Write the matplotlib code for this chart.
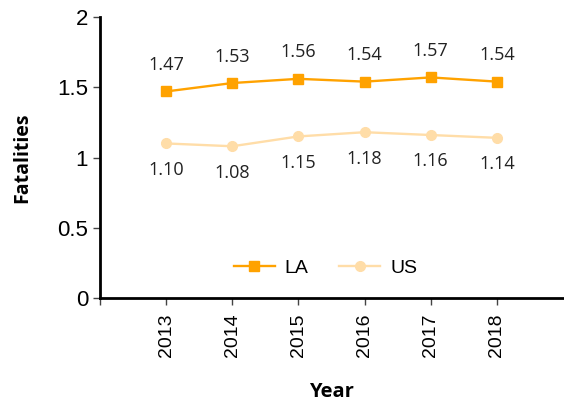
import matplotlib
matplotlib.use("Agg")
import matplotlib.pyplot as plt

years = [2013, 2014, 2015, 2016, 2017, 2018]
la = [1.47, 1.53, 1.56, 1.54, 1.57, 1.54]
us = [1.10, 1.08, 1.15, 1.18, 1.16, 1.14]
y_ticks = [0, 0.5, 1, 1.5, 2]
y_tick_labels = ["0", "0.5", "1", "1.5", "2"]

la_color = "#FFA200"
us_color = "#FFDDA8"

fig = plt.figure(figsize=(5.64, 4.09), dpi=100)
ax = fig.add_axes([100/564, 1-298/409, 463/564, 281/409])

ax.plot(years, la, color=la_color, marker="s", markersize=7, linewidth=1.7, label="LA")
ax.plot(years, us, color=us_color, marker="o", markersize=7, linewidth=1.7, label="US")

for x, v in zip(years, la):
    ax.annotate(f"{v:.2f}", (x, v), xytext=(0, 19), textcoords="offset points",
                ha="center", va="center", fontsize=13, family="Open Sans", color="#222222")
for x, v in zip(years, us):
    ax.annotate(f"{v:.2f}", (x, v), xytext=(0, -19), textcoords="offset points",
                ha="center", va="center", fontsize=13, family="Open Sans", color="#222222")

ax.set_xlim(2012, 2019)
ax.set_ylim(0, 2)
ax.set_xticks([2012] + years)
ax.set_xticklabels([""] + [str(y) for y in years], rotation=90, fontsize=14, family="Liberation Sans")
ax.set_yticks(y_ticks)
ax.set_yticklabels(y_tick_labels, fontsize=16, family="Liberation Sans")
ax.tick_params(axis="both", direction="out", length=5, width=1, color="#444444")
ax.tick_params(axis="x", pad=6)

for s in ["top", "right"]:
    ax.spines[s].set_visible(False)
for s in ["left", "bottom"]:
    ax.spines[s].set_linewidth(2)
    ax.spines[s].set_color("black")

ax.set_ylabel("Fatalities", fontsize=14, fontweight="bold", family="Open Sans", labelpad=18)
ax.set_xlabel("Year", fontsize=14.5, fontweight="bold", family="Open Sans", labelpad=18)

ax.legend(loc="center", bbox_to_anchor=(0.487, 0.105), ncol=2, frameon=False,
          prop={"family": "Liberation Sans", "size": 14}, handlelength=2.1, columnspacing=1.6,
          handletextpad=0.5)

fig.savefig("out.png", dpi=100)
